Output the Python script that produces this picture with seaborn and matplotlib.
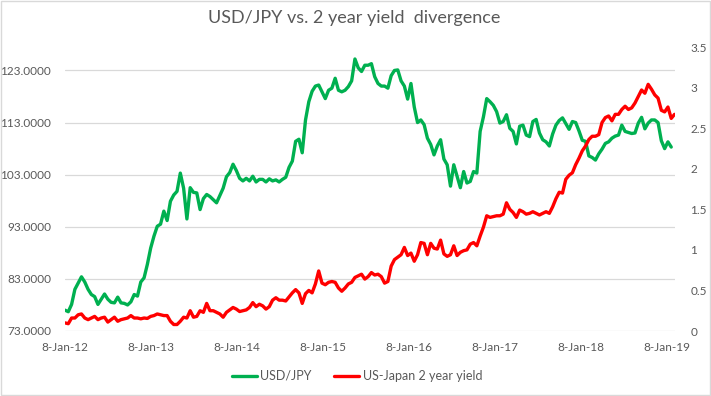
import pandas as pd
import seaborn as sns
import matplotlib.pyplot as plt
from matplotlib.patches import Rectangle

# fortnightly readings starting 8-Jan-2012
start_date = "2012-01-08"

usdjpy = [
    77.0, 76.7, 78.1, 81.0, 82.2, 83.4, 82.4, 81.0, 80.0, 79.6, 78.1, 79.1, 80.1,
    79.1, 78.5, 78.4, 79.5, 78.4, 78.3, 78.0, 78.6, 80.0, 79.7, 82.4, 83.2, 85.8,
    88.9, 91.2, 93.1, 93.5, 96.0, 94.2, 97.9, 99.1, 99.8, 103.3, 100.4,
    94.5, 100.5, 99.6, 99.5, 96.3, 98.4, 99.2, 98.8, 98.2, 97.6, 99.0, 100.4, 102.6,
    103.4, 105.0, 103.8, 102.3, 101.8, 102.3, 101.8, 102.7, 101.6, 102.1, 102.1,
    101.6, 102.2, 101.8, 102.0, 101.6, 102.1, 102.5, 104.4, 105.6, 109.4, 109.8,
    107.2, 113.5, 117.0,
    119.0, 120.0, 120.2, 118.9, 117.6, 119.2, 119.6, 121.5, 119.2, 118.9, 119.2,
    119.9, 121.0, 125.2, 123.5, 122.8, 124.0, 124.0, 124.3, 121.8, 120.5, 120.0,
    120.0, 119.6, 122.0, 123.0, 123.1, 121.0, 120.0, 117.5, 120.5, 116.0, 113.0,
    113.5, 112.6, 110.0, 108.8, 106.8,
    108.5, 109.7, 106.0, 104.9, 100.8, 104.9, 102.7, 100.5, 103.6, 101.4, 101.7,
    103.6, 103.3, 111.3, 114.1, 117.6, 117.0, 116.3, 115.1, 112.9, 113.2, 114.5,
    111.9, 111.3, 108.9, 112.3, 112.5, 110.6, 110.3, 113.2, 113.6, 111.0, 109.7,
    109.3, 108.5, 110.8, 112.5, 113.4,
    113.9, 112.8, 111.7, 113.2, 113.0, 111.4, 109.6, 109.4, 106.6, 106.3, 105.8,
    107.0, 107.9, 109.0, 109.3, 110.0, 110.4, 110.6, 112.5, 111.3, 111.1, 110.9,
    111.0, 112.9, 114.0, 111.8, 112.9, 113.5, 113.5, 113.0, 109.5, 108.0, 109.3,
    108.3,
]

yield_spread = [
    0.10, 0.09, 0.16, 0.16, 0.20, 0.21, 0.16, 0.14, 0.16, 0.18, 0.14, 0.16, 0.17,
    0.11, 0.14, 0.17, 0.12, 0.14, 0.15, 0.16, 0.19, 0.16, 0.16, 0.15, 0.16, 0.155,
    0.18, 0.19, 0.21, 0.20, 0.19, 0.19, 0.12, 0.08, 0.08, 0.12, 0.17,
    0.16, 0.25, 0.17, 0.18, 0.25, 0.23, 0.34, 0.25, 0.25, 0.23, 0.21, 0.17, 0.23,
    0.26, 0.29, 0.27, 0.24, 0.25, 0.26, 0.29, 0.35, 0.30, 0.33, 0.31, 0.27, 0.30,
    0.38, 0.41, 0.38, 0.38, 0.37, 0.42, 0.47, 0.51, 0.47, 0.34, 0.46, 0.50,
    0.47, 0.58, 0.74, 0.59, 0.57, 0.60, 0.61, 0.60, 0.53, 0.49, 0.53, 0.58, 0.60,
    0.66, 0.68, 0.70, 0.64, 0.67, 0.72, 0.69, 0.70, 0.67, 0.59, 0.61, 0.80, 0.88,
    0.91, 0.94, 1.03, 0.93, 0.96, 0.86, 0.94, 1.09, 1.08, 0.94, 1.08, 1.02,
    1.01, 1.12, 0.95, 0.92, 0.94, 1.05, 0.93, 0.97, 0.99, 1.00, 1.07, 1.09, 1.05,
    1.17, 1.28, 1.42, 1.40, 1.41, 1.42, 1.42, 1.44, 1.58, 1.50, 1.46, 1.40, 1.49,
    1.47, 1.44, 1.45, 1.47, 1.45, 1.43, 1.45, 1.47, 1.45, 1.53, 1.63, 1.71,
    1.70, 1.87, 1.92, 1.95, 2.05, 2.13, 2.22, 2.28, 2.36, 2.40, 2.40, 2.42, 2.57,
    2.63, 2.65, 2.59, 2.67, 2.67, 2.73, 2.77, 2.73, 2.75, 2.81, 2.89, 2.97, 2.93,
    3.04, 2.98, 2.91, 2.87, 2.72, 2.70, 2.76, 2.62, 2.67,
]

left_ticks = [73, 83, 93, 103, 113, 123]
right_ticks = [0, 0.5, 1, 1.5, 2, 2.5, 3, 3.5]
right_labels = ["0", "0.5", "1", "1.5", "2", "2.5", "3", "3.5"]
year_ticks = ["2012-01-08", "2013-01-08", "2014-01-08", "2015-01-08",
              "2016-01-08", "2017-01-08", "2018-01-08", "2019-01-08"]
year_labels = ["8-Jan-12", "8-Jan-13", "8-Jan-14", "8-Jan-15",
               "8-Jan-16", "8-Jan-17", "8-Jan-18", "8-Jan-19"]

dates = pd.date_range(start_date, periods=len(yield_spread), freq="14D")
df_fx = pd.DataFrame({"date": dates[:len(usdjpy)], "usdjpy": usdjpy})
df_yld = pd.DataFrame({"date": dates, "spread": yield_spread})

sns.set_style("white")
plt.rcParams["font.family"] = ["Lato", "DejaVu Sans"]
grey = "#595959"

fig, ax = plt.subplots(figsize=(7.11, 3.96), dpi=100)
fig.subplots_adjust(left=65/711, right=675/711, top=1-47/396, bottom=65/396)
ax2 = ax.twinx()

sns.lineplot(data=df_fx, x="date", y="usdjpy", ax=ax, color="#00B050", lw=2.4)
sns.lineplot(data=df_yld, x="date", y="spread", ax=ax2, color="#FF0000", lw=2.4)

ax.set_xlim(pd.Timestamp(start_date), dates[-1] + pd.Timedelta(days=2))
ax.set_ylim(73, 127.5)
ax2.set_ylim(0, 3.5)

ax.set_yticks(left_ticks)
ax.set_yticklabels([f"{v:.4f}" for v in left_ticks])
ax2.set_yticks(right_ticks)
ax2.set_yticklabels(right_labels)
ax.set_xticks(pd.to_datetime(year_ticks))
ax.set_xticklabels(year_labels)

ax.set_xlabel("")
ax.set_ylabel("")
ax2.set_ylabel("")

ax.yaxis.grid(True, color="#D9D9D9", lw=0.9)
ax.xaxis.grid(False)
ax2.grid(False)
for a in (ax, ax2):
    for s in a.spines.values():
        s.set_visible(False)
    a.tick_params(length=0, colors=grey, labelsize=8.5)
ax.tick_params(axis="x", pad=8)
ax.tick_params(axis="y", pad=10)
ax2.tick_params(axis="y", pad=11)

fig.text(354/711, 1-18/396, "USD/JPY vs. 2 year yield  divergence",
         ha="center", va="center", fontsize=13, color=grey)

handles = [ax.lines[0], ax2.lines[0]]
fig.legend(handles, ["USD/JPY", "US-Japan 2 year yield"], loc="center",
           bbox_to_anchor=(357/711, 1-376/396), ncol=2, frameon=False,
           fontsize=9, labelcolor=grey, handlelength=2.0, handletextpad=0.3,
           columnspacing=1.8)

fig.patches.append(Rectangle((0.001, 0.002), 0.997, 0.996, transform=fig.transFigure,
                             fill=False, edgecolor="#D9D9D9", lw=1))

plt.savefig("out.png", dpi=100)
